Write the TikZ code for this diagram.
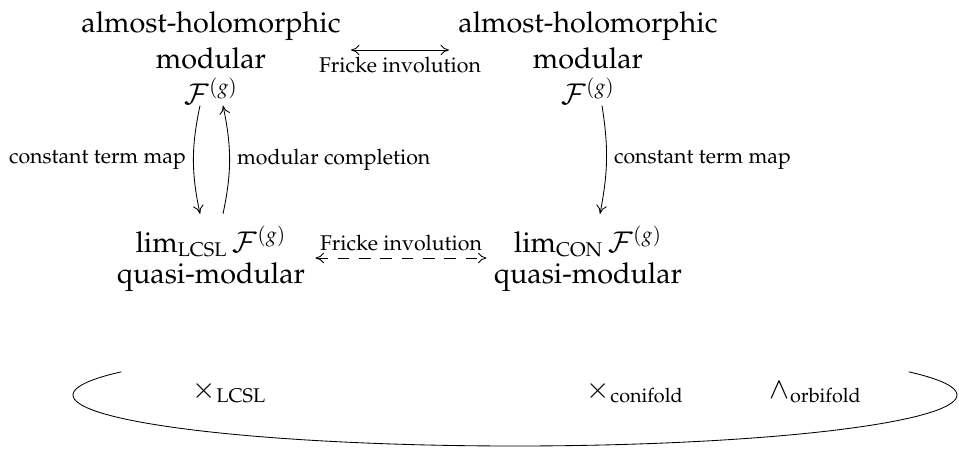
\documentclass[tikz,border=0pt]{standalone}
\usepackage[T1]{fontenc}
\usepackage{mathpazo}
\usepackage{amsmath}
\usetikzlibrary{arrows.meta, positioning, calc}
\DeclareMathSizes{13.5}{13.5}{9.3}{7}

\begin{document}
\begin{tikzpicture}[x=0.0165cm, y=-0.0165cm, every node/.style={font=\normalsize},
    >={To[length=4pt, width=5pt]},
    big/.style={font=\fontsize{13.5}{16.8}\selectfont, align=center, inner sep=0pt},
    sing/.style={font=\fontsize{13.5}{16.8}\selectfont, inner sep=0pt, anchor=base west}]
    \useasboundingbox (0,0) rectangle (959,452);

    % obere Reihe
    \node[big] (ahmL) at (211, 58) {almost-holomorphic\\ modular\\ $\mathcal{F}^{(g)}$};
    \node[big] (ahmR) at (588, 58) {almost-holomorphic\\ modular\\ $\mathcal{F}^{(g)}$};

    \draw[<->] ([shift={(10,-8)}]ahmL.east) -- node[below] {Fricke involution} ([shift={(-9,-8)}]ahmR.west);

    % untere Reihe
    \node[big] (qmL) at (211, 259) {$\lim_{\text{LCSL}} \mathcal{F}^{(g)}$\\[-2pt] quasi-modular};
    \node[big] (qmR) at (588, 259) {$\lim_{\text{CON}} \mathcal{F}^{(g)}$\\[-2pt] quasi-modular};

    \draw[<->, dash pattern=on 5.5pt off 4.5pt] ([shift={(10,-1)}]qmL.east) -- node[above] {Fricke involution} ([shift={(-7,-1)}]qmR.west);

    % senkrechte Pfeile
    \draw[->] ([shift={(-11,1)}]ahmL.south) to[bend right=12] node[left] {constant term map} ([shift={(-11,-12)}]qmL.north);
    \draw[->] ([shift={(12,-12)}]qmL.north) to[bend right=12] node[right] {modular completion} ([shift={(12,1)}]ahmL.south);
    \draw[->] ([shift={(14,1)}]ahmR.south) to[bend left=10] node[right] {constant term map} ([shift={(12,-12)}]qmR.north);

    % Moduli-Raum
    \draw plot[domain=153:387, samples=120, smooth] ({515+442*cos(\x)}, {395-51*sin(\x)});
    \node[sing] (lcsl) at (192, 398) {$\times_{\text{LCSL}}$};
    \node[sing] (con) at (586, 398) {$\times_{\text{conifold}}$};
    \node[sing] (orb) at (769, 398) {$\wedge_{\text{orbifold}}$};
\end{tikzpicture}
\end{document}
